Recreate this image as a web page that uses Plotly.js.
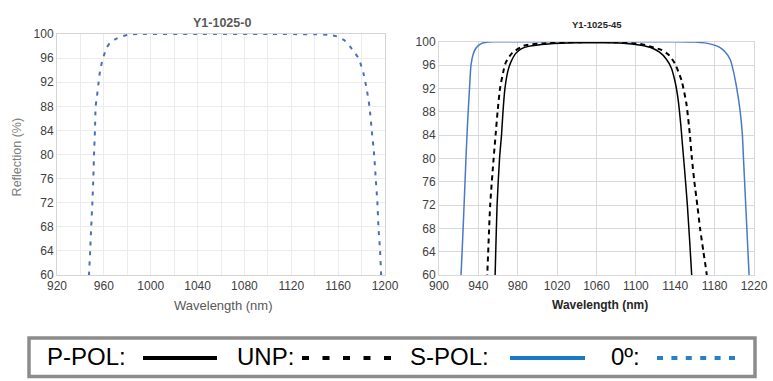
<!DOCTYPE html>
<html>
<head>
<meta charset="utf-8">
<script src="https://cdn.plot.ly/plotly-3.0.1.min.js"></script>
<style>html,body{margin:0;padding:0;background:#fff;}#chart{width:773px;height:381px;}</style>
</head>
<body>
<div id="chart"></div>
<script>
// ---- Data ----
// Left chart: Y1-1025-0, 0° incidence
var wl0 = [944, 947.3, 948.3, 949.2, 950.2, 951, 951.6, 952.4, 953, 953.9, 955.3, 956.7, 959, 962.4, 965.5, 969.5, 975, 982, 990, 1040, 1100, 1140, 1152, 1158.8, 1165, 1170.2, 1177.3, 1181.6, 1184.5, 1186.7, 1188.7, 1190.7, 1192.1, 1193.5, 1194.4, 1195.8, 1196.7, 1198];
var r0  = [50, 60, 64, 68, 72, 76, 80, 84, 88, 89.3, 91.6, 93.8, 95.8, 97.7, 98.6, 99.1, 99.6, 99.9, 100, 100, 100, 99.95, 99.85, 99.6, 99.0, 97.9, 96, 93.5, 90.7, 88, 84, 80, 76, 72, 68, 64, 60, 50];

// Right chart: Y1-1025-45, 45° incidence
var wlP = [955, 957, 959, 961.5, 963.5, 965, 967, 970, 973, 978, 984, 991, 1011, 1040, 1070, 1090, 1105, 1115, 1124, 1131, 1136, 1140, 1143, 1145.5, 1147.5, 1149.5, 1152.3, 1156.7, 1159];
var rP  = [50, 60, 72, 80, 84, 88, 92, 95, 96.5, 98, 98.8, 99.2, 99.6, 99.8, 99.8, 99.7, 99.4, 99.0, 98.2, 97, 95.5, 93, 90, 86, 82, 78, 72, 60, 50];

var wlU = [946, 949, 952, 955.5, 957.5, 959.5, 962, 965.5, 968, 974, 986, 1005, 1030, 1080, 1105, 1118, 1126, 1133, 1139.5, 1146.3, 1151.3, 1154.7, 1156.9, 1159.4, 1162.4, 1165.2, 1168.6, 1172, 1175];
var rU  = [50, 60, 72, 80, 84, 88, 92, 95, 96.5, 98, 99.3, 99.7, 99.9, 99.9, 99.6, 99.0, 98.6, 97.8, 96.3, 93.4, 89.4, 84.3, 80, 76, 72, 68, 64, 60, 50];

var wlS = [919, 922.4, 925, 927.4, 929, 931, 932.5, 935, 938, 942, 948, 955, 980, 1060, 1140, 1160, 1170, 1178, 1185.6, 1191, 1195.7, 1199, 1202.5, 1206, 1208.2, 1209.3, 1211.6, 1215, 1218];
var rS  = [50, 60, 70, 80, 86, 92, 96, 98, 99, 99.6, 99.9, 100, 100, 100, 100, 99.95, 99.8, 99.5, 99, 98.2, 97, 95, 92, 88, 84, 80, 72, 60, 50];

// Axis ticks
var yTicks = [60, 64, 68, 72, 76, 80, 84, 88, 92, 96, 100];
var xTicksLeft = [920, 960, 1000, 1040, 1080, 1120, 1160, 1200];
var xTicksRight = [900, 940, 980, 1020, 1060, 1100, 1140, 1180, 1220];

// Legend labels
var legendLabels = ["P-POL:", "UNP:", "S-POL:", "0\u00ba:"];

// ---- Helpers for pixel -> paper ----
var W = 773, H = 381;
function px(x){ return x / W; }
function py(y){ return 1 - y / H; }

var traces = [
  {x: wl0, y: r0, xaxis: 'x', yaxis: 'y', mode: 'lines', name: '0°',
   line: {color: '#4d6fb6', width: 2, dash: '4px,6px', shape: 'spline', smoothing: 0.6}},
  {x: wlS, y: rS, xaxis: 'x2', yaxis: 'y2', mode: 'lines', name: 'S-POL',
   line: {color: '#4a78c8', width: 1.5, shape: 'spline', smoothing: 0.6}},
  {x: wlU, y: rU, xaxis: 'x2', yaxis: 'y2', mode: 'lines', name: 'UNP',
   line: {color: '#000000', width: 2, dash: '5px,4px', shape: 'spline', smoothing: 0.6}},
  {x: wlP, y: rP, xaxis: 'x2', yaxis: 'y2', mode: 'lines', name: 'P-POL',
   line: {color: '#000000', width: 1.5, shape: 'spline', smoothing: 0.6}}
];

var tickFont = {family: 'Liberation Sans, Arial, sans-serif', size: 12, color: '#404040'};

var layout = {
  width: W, height: H,
  margin: {l: 0, r: 0, t: 0, b: 0},
  paper_bgcolor: '#ffffff', plot_bgcolor: '#ffffff',
  showlegend: false,
  xaxis: {
    domain: [px(57), px(385)], anchor: 'y', range: [920, 1200],
    tickvals: xTicksLeft, ticktext: xTicksLeft.map(String),
    showgrid: true, gridcolor: '#ececec', gridwidth: 1,
    minor: {dtick: 20, tick0: 920, showgrid: true, gridcolor: '#ececec', gridwidth: 1, ticks: ''},
    showline: true, linecolor: '#d4d4d4', linewidth: 1, mirror: true,
    ticks: '', zeroline: false, tickfont: tickFont, fixedrange: true
  },
  yaxis: {
    domain: [py(275), py(34)], anchor: 'x', range: [60, 100],
    tickvals: yTicks, ticktext: yTicks.map(String),
    showgrid: true, gridcolor: '#ececec', gridwidth: 1,
    showline: true, linecolor: '#d4d4d4', linewidth: 1, mirror: true,
    ticks: '', zeroline: false, tickfont: tickFont, fixedrange: true
  },
  xaxis2: {
    domain: [px(439), px(754)], anchor: 'y2', range: [900, 1220],
    tickvals: xTicksRight, ticktext: xTicksRight.map(String),
    showgrid: true, gridcolor: '#d9d9d9', gridwidth: 1,
    showline: true, linecolor: '#d9d9d9', linewidth: 1, mirror: true,
    ticks: '', zeroline: false, tickfont: tickFont, fixedrange: true
  },
  yaxis2: {
    domain: [py(275), py(41.7)], anchor: 'x2', range: [60, 100],
    tickvals: yTicks, ticktext: yTicks.map(String),
    showgrid: true, gridcolor: '#d9d9d9', gridwidth: 1,
    showline: true, linecolor: '#d9d9d9', linewidth: 1, mirror: true,
    ticks: '', zeroline: false, tickfont: tickFont, fixedrange: true
  },
  annotations: [
    {text: '<b>Y1-1025-0</b>', xref: 'paper', yref: 'paper', x: px(222), y: py(23.3),
     xanchor: 'center', yanchor: 'middle', showarrow: false,
     font: {family: 'Liberation Sans, Arial, sans-serif', size: 12.5, color: '#595959'}},
    {text: '<b>Y1-1025-45</b>', xref: 'paper', yref: 'paper', x: px(596.5), y: py(24),
     xanchor: 'center', yanchor: 'middle', showarrow: false,
     font: {family: 'Liberation Sans, Arial, sans-serif', size: 9.5, color: '#262626'}},
    {text: 'Reflection (%)', xref: 'paper', yref: 'paper', x: px(16.7), y: py(156.7),
     xanchor: 'center', yanchor: 'middle', textangle: -90, showarrow: false,
     font: {family: 'Liberation Sans, Arial, sans-serif', size: 12.5, color: '#808080'}},
    {text: 'Wavelength (nm)', xref: 'paper', yref: 'paper', x: px(224), y: py(305),
     xanchor: 'center', yanchor: 'middle', showarrow: false,
     font: {family: 'Liberation Sans, Arial, sans-serif', size: 13, color: '#595959'}},
    {text: '<b>Wavelength (nm)</b>', xref: 'paper', yref: 'paper', x: px(600), y: py(305),
     xanchor: 'center', yanchor: 'middle', showarrow: false,
     font: {family: 'Liberation Sans, Arial, sans-serif', size: 12, color: '#262626'}},
    {text: legendLabels[0], xref: 'paper', yref: 'paper', x: px(45), y: py(356),
     xanchor: 'left', yanchor: 'middle', showarrow: false,
     font: {family: 'Liberation Sans, Arial, sans-serif', size: 24, color: '#000000'}},
    {text: legendLabels[1], xref: 'paper', yref: 'paper', x: px(235), y: py(356),
     xanchor: 'left', yanchor: 'middle', showarrow: false,
     font: {family: 'Liberation Sans, Arial, sans-serif', size: 24, color: '#000000'}},
    {text: legendLabels[2], xref: 'paper', yref: 'paper', x: px(408), y: py(356),
     xanchor: 'left', yanchor: 'middle', showarrow: false,
     font: {family: 'Liberation Sans, Arial, sans-serif', size: 24, color: '#000000'}},
    {text: legendLabels[3], xref: 'paper', yref: 'paper', x: px(609), y: py(356),
     xanchor: 'left', yanchor: 'middle', showarrow: false,
     font: {family: 'Liberation Sans, Arial, sans-serif', size: 24, color: '#000000'}}
  ],
  shapes: [
    {type: 'rect', xref: 'paper', yref: 'paper', x0: px(29), x1: px(755), y0: py(376.5), y1: py(338),
     line: {color: '#8c8c8c', width: 3.5}, fillcolor: 'rgba(0,0,0,0)'},
    {type: 'line', xref: 'paper', yref: 'paper', x0: px(143), x1: px(217), y0: py(358), y1: py(358),
     line: {color: '#000000', width: 4}},
    {type: 'line', xref: 'paper', yref: 'paper', x0: px(302), x1: px(391), y0: py(358), y1: py(358),
     line: {color: '#000000', width: 4, dash: '7px,13.5px'}},
    {type: 'line', xref: 'paper', yref: 'paper', x0: px(510), x1: px(585), y0: py(358), y1: py(358),
     line: {color: '#1b7bc2', width: 4}},
    {type: 'line', xref: 'paper', yref: 'paper', x0: px(657), x1: px(735), y0: py(358), y1: py(358),
     line: {color: '#2a80c8', width: 4, dash: '6px,8.4px'}}
  ]
};

Plotly.newPlot('chart', traces, layout, {displayModeBar: false, staticPlot: true});
</script>
</body>
</html>
